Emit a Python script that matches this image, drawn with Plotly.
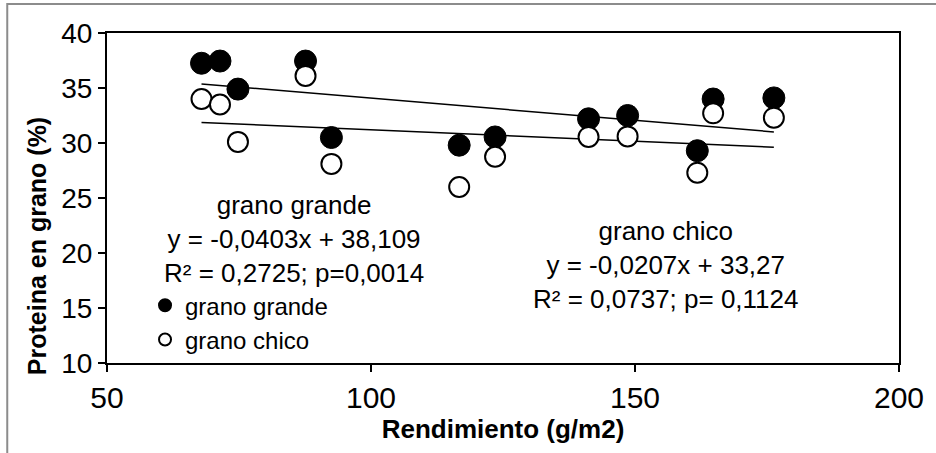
import plotly.graph_objects as go

# Data
rendimiento = [67.9, 71.4, 74.8, 87.6, 92.5, 116.7, 123.5, 141.2, 148.6, 161.8, 164.8, 176.3]
grano_grande = [37.25, 37.45, 34.9, 37.45, 30.5, 29.8, 30.55, 32.2, 32.5, 29.3, 34.0, 34.1]
grano_chico = [34.0, 33.5, 30.1, 36.1, 28.1, 26.0, 28.75, 30.55, 30.6, 27.3, 32.7, 32.3]

# Trendline coefficients (slope, intercept) as printed on the chart
fit_grande = (-0.0403, 38.109)
fit_chico = (-0.0207, 33.27)

x_ticks = [50, 100, 150, 200]
y_ticks = [10, 15, 20, 25, 30, 35, 40]

FONT = "Liberation Sans, Arial, sans-serif"

W, H = 936, 453
ML, MR, MT, MB = 107, 35, 33, 90
PW, PH = W - ML - MR, H - MT - MB

fig = go.Figure()

xmin, xmax = min(rendimiento), max(rendimiento)
for slope, icpt in (fit_grande, fit_chico):
    fig.add_trace(go.Scatter(
        x=[xmin, xmax], y=[slope * xmin + icpt, slope * xmax + icpt],
        mode="lines", line=dict(color="black", width=1.5),
        showlegend=False, hoverinfo="skip"))

fig.add_trace(go.Scatter(
    x=rendimiento, y=grano_grande, mode="markers", name="grano grande",
    marker=dict(symbol="circle", size=22, color="black",
                line=dict(color="black", width=1))))
fig.add_trace(go.Scatter(
    x=rendimiento, y=grano_chico, mode="markers", name="grano chico",
    marker=dict(symbol="circle", size=20, color="white",
                line=dict(color="black", width=2))))

fig.add_annotation(
    x=85.5, y=21.3, xref="x", yref="y", showarrow=False,
    text="grano grande<br>y = -0,0403x + 38,109<br>R² = 0,2725; p=0,0014",
    font=dict(family=FONT, size=26, color="black"), align="center")
fig.add_annotation(
    x=155.9, y=18.9, xref="x", yref="y", showarrow=False,
    text="grano chico<br>y = -0,0207x + 33,27<br>R² = 0,0737; p= 0,1124",
    font=dict(family=FONT, size=26, color="black"), align="center")

# y-axis title (placed as in the reference, slightly below the plot centre)
fig.add_annotation(
    x=(37 - ML) / PW, y=(MT + PH - 246) / PH, xref="paper", yref="paper",
    showarrow=False, textangle=-90, xanchor="center", yanchor="middle",
    text="<b>Proteina en grano (%)</b>",
    font=dict(family=FONT, size=25, color="black"))

# outer chart border (light gray)
fig.add_shape(type="rect", xref="paper", yref="paper",
              x0=(7 - ML) / PW, x1=(945 - ML) / PW,
              y0=-(460 - MT - PH) / PH, y1=1 + (MT - 4) / PH,
              line=dict(color="#8c8c8c", width=2), fillcolor="rgba(0,0,0,0)",
              layer="below")

fig.update_layout(
    width=W, height=H,
    margin=dict(l=ML, r=MR, t=MT, b=MB),
    paper_bgcolor="white", plot_bgcolor="white",
    font=dict(family=FONT, color="black"),
    showlegend=True,
    legend=dict(x=0.048, y=0.242, xanchor="left", yanchor="top",
                bgcolor="rgba(0,0,0,0)", font=dict(size=24, family=FONT),
                itemsizing="constant", tracegroupgap=0,
                itemwidth=30),
    xaxis=dict(range=[50, 200], tickvals=x_ticks, ticktext=[str(v) for v in x_ticks],
               showgrid=False, zeroline=False, showline=True, linecolor="black",
               linewidth=2, mirror=True, ticks="outside", ticklen=7,
               tickwidth=2, tickcolor="black",
               tickfont=dict(size=30, family=FONT),
               title=dict(text="<b>Rendimiento (g/m2)</b>",
                          font=dict(size=26, family=FONT), standoff=2)),
    yaxis=dict(range=[10, 40], tickvals=y_ticks, ticktext=[str(v) for v in y_ticks],
               showgrid=False, zeroline=False, showline=True, linecolor="black",
               linewidth=2, mirror=True, ticks="outside", ticklen=7,
               tickwidth=2, tickcolor="black",
               tickfont=dict(size=28, family=FONT)),
)

fig.write_html("out.html")
